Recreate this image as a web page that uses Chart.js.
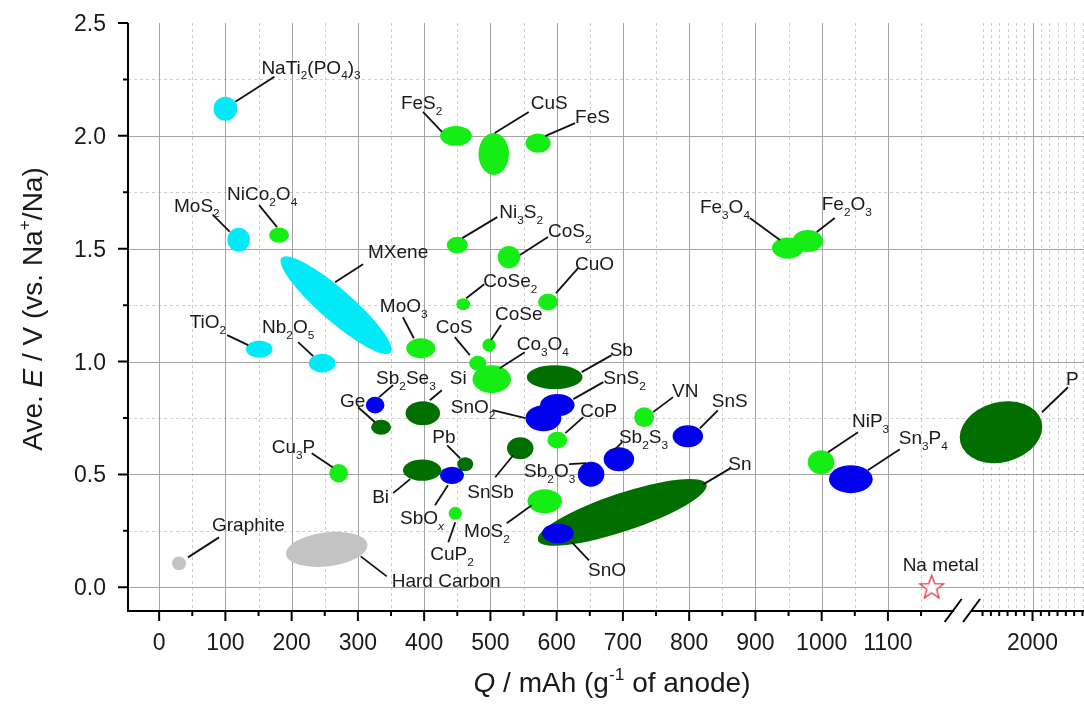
<!DOCTYPE html>
<html>
<head>
<meta charset="utf-8">
<title>Na-ion anodes: average potential vs capacity</title>
<script src="https://cdn.jsdelivr.net/npm/chart.js@4.4.1/dist/chart.umd.min.js"></script>
<style>
  html, body { margin: 0; padding: 0; background: #fff; }
</style>
</head>
<body>
<canvas id="anodes" width="1084" height="706"></canvas>
<script>
"use strict"

// one entry per blob: label (_ sub, ^ sup, * italic), family, centre and half extent
const names = ["NaTi_2(PO_4)_3", "MoS_2", "MXene", "TiO_2", "Nb_2O_5",
    "NiCo_2O_4", "FeS_2", "CuS", "FeS", "Ni_3S_2", "CoS_2", "CoSe_2", "CuO", "MoO_3", "CoS", "CoSe",
    "Co_3O_4", "CoP", "VN", "MoS_2", "CuP_2", "Cu_3P", "Fe_3O_4", "Fe_2O_3", "NiP_3",
    "Sb_2Se_3", "SbO_{*x*}", "SnO_2", "SnS_2", "Sb_2O_3", "Sb_2S_3", "SnS", "SnO", "Sn_3P_4",
    "Ge", "Si", "Bi", "Pb", "SnSb", "Sb", "Sn", "P",
    "Graphite", "Hard Carbon"];
const family = ["ins", "ins", "ins", "ins", "ins",
    "conv", "conv", "conv", "conv", "conv", "conv", "conv", "conv", "conv", "conv", "conv",
    "conv", "conv", "conv", "conv", "conv", "conv", "conv", "conv", "conv",
    "convAlloy", "convAlloy", "convAlloy", "convAlloy", "convAlloy", "convAlloy", "convAlloy", "convAlloy", "convAlloy",
    "alloy", "alloy", "alloy", "alloy", "alloy", "alloy", "alloy", "alloy",
    "carbon", "carbon"];
const capacity = [100, 120, 267, 151, 246,
    181, 448, 505, 572, 450, 528, 459, 587, 395, 481, 498,
    502, 601, 732, 582, 447, 271, 949, 979, 999,
    326, 442, 580, 601, 652, 694, 798, 602, 1044,
    335, 398, 397, 462, 545, 597, 699, 1621,
    30, 253];
const potential = [2.12, 1.54, 1.25, 1.055, 0.993,
    1.56, 2.0, 1.92, 1.968, 1.516, 1.463, 1.254, 1.263, 1.059, 0.993, 1.073,
    0.922, 0.652, 0.754, 0.381, 0.328, 0.505, 1.503, 1.534, 0.554,
    0.807, 0.496, 0.749, 0.807, 0.501, 0.567, 0.669, 0.239, 0.479,
    0.709, 0.771, 0.519, 0.545, 0.616, 0.931, 0.332, 0.687,
    0.106, 0.168];
const capSpread = [18, 17, 109, 20, 20,
    15, 24, 23, 19, 16, 17, 10.5, 15, 22, 13, 10,
    29, 15, 15, 26, 10, 14, 24, 23, 20,
    14, 18, 27, 26, 20, 23, 23, 24, 33,
    15, 26, 29, 12, 20, 42, 134, 504,
    10.5, 62];
const potSpread = [0.053, 0.053, 0.071, 0.038, 0.042,
    0.034, 0.044, 0.093, 0.043, 0.037, 0.049, 0.027, 0.037, 0.044, 0.033, 0.029,
    0.062, 0.037, 0.044, 0.053, 0.029, 0.041, 0.047, 0.049, 0.053,
    0.037, 0.038, 0.058, 0.049, 0.055, 0.053, 0.049, 0.044, 0.062,
    0.033, 0.053, 0.047, 0.031, 0.049, 0.053, 0.084, 0.133,
    0.031, 0.075];

const naMetal = { name: "Na metal", capacity: 1166, potential: 0 };

const capMajor = [0, 100, 200, 300, 400, 500, 600, 700, 800, 900, 1000, 1100, 2000];
const capMinor = [50, 150, 250, 350, 450, 550, 650, 750, 850, 950, 1050, 1150,
    1400, 1500, 1600, 1700, 1800, 1900, 2100, 2200, 2300, 2400, 2500, 2600];
const potMajor = [0, 0.5, 1.0, 1.5, 2.0, 2.5];
const potMinor = [0.25, 0.75, 1.25, 1.75, 2.25];

// broken axis: linear up to 1200, compressed after 1250
function toAxis(q) {
    return q <= 1200 ? q : 1224 + (q - 1250) * 0.1257;
}

const colors = { ins: "#00eaf8", conv: "#14ee14", convAlloy: "#0000ee", alloy: "#006f00", carbon: "#c3c3c3" };
const drawOrder = ["carbon", "alloy", "conv", "ins", "convAlloy"];
const tilt = { "MXene": 41, "Sn": -18.4, "P": -15, "Hard Carbon": -7 };

// label placement, px relative to blob centre: text x, text mid y, align, leader x1,y1,x2,y2
const callouts = [
    [36, -42, "left", 10, -7, 49, -32], [-19, -35, "right", -9, -8, -26, -25], [32, -54, "left", -1, -23, 27, -41],
    [-33, -28, "right", -11, -4, -32, -14], [-34, -37, "center", -9, -7, -24, -21],
    [-52, -42, "left", -2, -8, -20, -30], [-55, -34, "left", -14, -4, -33, -24], [37, -52, "left", 1, -21, 35, -42],
    [37, -27, "left", 7, -7, 37, -20], [42, -34, "left", 5, -7, 40, -28], [39, -27, "left", 11, -2, 39, -20],
    [20, -24, "left", 3, -6, 21, -20], [27, -39, "left", 8, -9, 30, -34], [-41, -43, "left", -7, -10, -18, -31],
    [-42, -37, "left", -8, -8, -23, -26], [6, -32, "left", 2, -5, 12, -20],
    [25, -36, "left", 8, -11, 33, -27], [23, -30, "left", 8, -7, 26, -23], [28, -27, "left", 9, -5, 29, -20],
    [-35, 29, "right", -13, 4, -38, 22], [-25, 40, "left", 0, 9, -7, 29], [-67, -27, "left", -6, -6, -27, -20],
    [-88, -42, "left", -8, -8, -38, -30], [14, -38, "left", 9, -9, 27, -23], [31, -42, "left", 7, -10, 37, -30],
    [1, -28, "left", 4, -8, 18, -20], [-52, 42, "left", -4, 10, -17, 30], [-48, -12, "right", -18, 0, -51, -8],
    [46, -28, "left", 16, -6, 46, -23], [-67, -4, "left", -5, -11, -22, -10], [0, -23, "left", -4, -10, 3, -17],
    [24, -36, "left", 12, -8, 30, -26], [30, 36, "left", 14, 9, 31, 27], [48, -42, "left", 17, -9, 49, -30],
    [-41, -27, "left", -6, -5, -23, -20], [27, -36, "left", 7, -13, 19, -23], [-50, 26, "left", -12, 9, -29, 23],
    [-33, -28, "left", -5, -6, -18, -19], [-53, 43, "left", -7, 7, -25, 29], [55, -28, "left", 27, -5, 57, -22],
    [106, -49, "left", 81, -28, 108, -44], [65, -54, "left", 41, -20, 67, -45],
    [33, -39, "left", 9, -6, 40, -26], [65, 31, "left", 34, 7, 60, 27]
];

const FONT = "'Liberation Sans', Arial, sans-serif";

function parseRich(s) {
    const runs = [];
    let italic = false;
    const push = (ch, mode) => {
        const last = runs[runs.length - 1];
        if (last && last.mode === mode && last.italic === italic) last.text += ch;
        else runs.push({ text: ch, mode: mode, italic: italic });
    };
    for (let i = 0; i < s.length; i++) {
        const c = s[i];
        if (c === "*") { italic = !italic; continue; }
        if (c === "_" || c === "^") {
            const mode = c === "_" ? "sub" : "sup";
            let grp;
            if (s[i + 1] === "{") { const j = s.indexOf("}", i); grp = s.slice(i + 2, j); i = j; }
            else { grp = s[i + 1]; i++; }
            for (const g of grp) { if (g === "*") italic = !italic; else push(g, mode); }
            continue;
        }
        push(c, "n");
    }
    return runs;
}

function runFont(r, size) {
    const sz = r.mode === "n" ? size : size * 0.62;
    return (r.italic ? "italic " : "") + sz.toFixed(1) + "px " + FONT;
}

// y is the baseline
function drawRich(ctx, s, x, y, size, align) {
    const runs = parseRich(s);
    let w = 0;
    runs.forEach(r => { ctx.font = runFont(r, size); r.w = ctx.measureText(r.text).width; w += r.w; });
    let cx = align === "right" ? x - w : align === "center" ? x - w / 2 : x;
    ctx.textAlign = "left";
    ctx.textBaseline = "alphabetic";
    runs.forEach(r => {
        ctx.font = runFont(r, size);
        const dy = r.mode === "sub" ? size * 0.3 : r.mode === "sup" ? -size * 0.42 : 0;
        ctx.fillText(r.text, cx, y + dy);
        cx += r.w;
    });
}

function starCanvas() {
    const c = document.createElement("canvas");
    c.width = 30; c.height = 30;
    const g = c.getContext("2d");
    g.beginPath();
    for (let k = 0; k < 10; k++) {
        const r = k % 2 === 0 ? 12.5 : 5.2;
        const a = -Math.PI / 2 + k * Math.PI / 5;
        const px = 15 + r * Math.cos(a), py = 15.5 + r * Math.sin(a);
        if (k === 0) g.moveTo(px, py); else g.lineTo(px, py);
    }
    g.closePath();
    g.fillStyle = "#fff";
    g.fill();
    g.strokeStyle = "#e5323c";
    g.lineWidth = 1.3;
    g.stroke();
    return c;
}

const datasets = drawOrder.map(fam => ({
    label: fam,
    data: names.map((n, i) => i).filter(i => family[i] === fam)
        .map(i => ({ x: toAxis(capacity[i]), y: potential[i], idx: i })),
    pointRadius: 0,
    backgroundColor: colors[fam]
}));
datasets.push({
    label: naMetal.name,
    data: [{ x: toAxis(naMetal.capacity), y: naMetal.potential }],
    pointStyle: starCanvas(),
    pointRadius: 12
});

const gridPlugin = {
    id: "gridPlugin",
    beforeDatasetsDraw(chart) {
        const { ctx, chartArea: a, scales: { x, y } } = chart;
        ctx.save();
        ctx.lineWidth = 1;
        ctx.strokeStyle = "#cfcfcf";
        ctx.setLineDash([3, 3]);
        capMinor.forEach(q => {
            const px = Math.round(x.getPixelForValue(toAxis(q))) + 0.5;
            ctx.beginPath(); ctx.moveTo(px, a.top); ctx.lineTo(px, a.bottom); ctx.stroke();
        });
        potMinor.forEach(v => {
            const py = Math.round(y.getPixelForValue(v)) + 0.5;
            ctx.beginPath(); ctx.moveTo(a.left, py); ctx.lineTo(a.right, py); ctx.stroke();
        });
        ctx.setLineDash([]);
        ctx.strokeStyle = "#a4a4a4";
        capMajor.forEach(q => {
            const px = Math.round(x.getPixelForValue(toAxis(q))) + 0.5;
            ctx.beginPath(); ctx.moveTo(px, a.top); ctx.lineTo(px, a.bottom); ctx.stroke();
        });
        potMajor.filter(v => v < 2.5).forEach(v => {
            const py = Math.round(y.getPixelForValue(v)) + 0.5;
            ctx.beginPath(); ctx.moveTo(a.left, py); ctx.lineTo(a.right, py); ctx.stroke();
        });
        ctx.restore();
    }
};

const markPlugin = {
    id: "markPlugin",
    afterDatasetsDraw(chart) {
        const { ctx, chartArea: a, scales: { x, y } } = chart;
        ctx.save();
        // blobs
        chart.data.datasets.forEach((ds, di) => {
            if (ds.label === naMetal.name) return;
            const meta = chart.getDatasetMeta(di);
            meta.data.forEach((el, j) => {
                const i = ds.data[j].idx;
                const rx = Math.abs(x.getPixelForValue(toAxis(capacity[i] + capSpread[i])) - el.x);
                const ry = Math.abs(y.getPixelForValue(potential[i] + potSpread[i]) - el.y);
                const rot = (tilt[names[i]] || 0) * Math.PI / 180;
                ctx.beginPath();
                ctx.ellipse(el.x, el.y, rx, ry, rot, 0, Math.PI * 2);
                ctx.fillStyle = colors[family[i]];
                ctx.fill();
            });
        });
        // leaders and labels
        ctx.strokeStyle = "#111";
        ctx.lineWidth = 1.8;
        ctx.fillStyle = "#1a1a1a";
        names.forEach((n, i) => {
            const cx = x.getPixelForValue(toAxis(capacity[i]));
            const cy = y.getPixelForValue(potential[i]);
            const c = callouts[i];
            ctx.beginPath();
            ctx.moveTo(cx + c[3], cy + c[4]);
            ctx.lineTo(cx + c[5], cy + c[6]);
            ctx.stroke();
            drawRich(ctx, n, cx + c[0], cy + c[1] + 7, 19, c[2]);
        });
        const nx = x.getPixelForValue(toAxis(naMetal.capacity));
        const ny = y.getPixelForValue(naMetal.potential);
        drawRich(ctx, naMetal.name, nx - 29, ny - 16, 19, "left");

        // axes
        const gapL = x.getPixelForValue(toAxis(1200));
        const gapR = x.getPixelForValue(toAxis(1268));
        ctx.strokeStyle = "#000";
        ctx.lineWidth = 2;
        ctx.beginPath();
        ctx.moveTo(a.left, a.top); ctx.lineTo(a.left, a.bottom + 1);
        ctx.moveTo(a.left - 1, a.bottom); ctx.lineTo(gapL, a.bottom);
        ctx.moveTo(gapR, a.bottom); ctx.lineTo(a.right, a.bottom);
        [gapL - 1, gapR].forEach(bx => {
            ctx.moveTo(bx - 8.5, a.bottom + 11); ctx.lineTo(bx + 8.5, a.bottom - 12);
        });
        capMajor.forEach(q => {
            const px = x.getPixelForValue(toAxis(q));
            ctx.moveTo(px, a.bottom); ctx.lineTo(px, a.bottom + 10);
        });
        capMinor.forEach(q => {
            const px = x.getPixelForValue(toAxis(q));
            ctx.moveTo(px, a.bottom); ctx.lineTo(px, a.bottom + 5);
        });
        potMajor.forEach(v => {
            const py = y.getPixelForValue(v);
            ctx.moveTo(a.left, py); ctx.lineTo(a.left - 10, py);
        });
        potMinor.forEach(v => {
            const py = y.getPixelForValue(v);
            ctx.moveTo(a.left, py); ctx.lineTo(a.left - 5, py);
        });
        ctx.stroke();

        // tick labels
        ctx.fillStyle = "#1a1a1a";
        ctx.font = "23px " + FONT;
        ctx.textBaseline = "alphabetic";
        ctx.textAlign = "center";
        capMajor.forEach(q => {
            ctx.fillText(String(q), x.getPixelForValue(toAxis(q)), a.bottom + 39);
        });
        ctx.textAlign = "right";
        potMajor.forEach(v => {
            ctx.fillText(v.toFixed(1), a.left - 22, y.getPixelForValue(v) + 8);
        });

        // axis titles
        drawRich(ctx, "*Q* / mAh (g^{-1} of anode)", 612, 692, 28, "center");
        ctx.translate(42, 309);
        ctx.rotate(-Math.PI / 2);
        drawRich(ctx, "Ave. *E* / V (vs. Na^+/Na)", 0, 0, 28, "center");
        ctx.restore();
    }
};

new Chart(document.getElementById("anodes"), {
    type: "scatter",
    data: { datasets: datasets },
    options: {
        responsive: false,
        animation: false,
        devicePixelRatio: 1,
        events: [],
        layout: { autoPadding: false, padding: { left: 128, right: 0, top: 23, bottom: 95 } },
        scales: {
            x: { type: "linear", min: -47, max: toAxis(2618), display: false },
            y: { type: "linear", min: -0.105, max: 2.5, display: false }
        },
        plugins: { legend: { display: false }, tooltip: { enabled: false } }
    },
    plugins: [gridPlugin, markPlugin]
});
</script>
</body>
</html>
